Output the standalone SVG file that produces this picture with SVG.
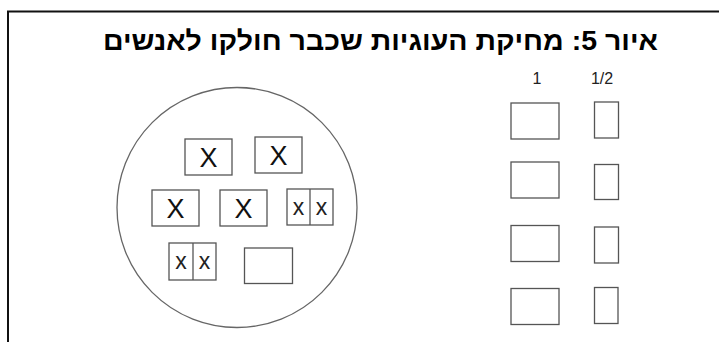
<svg xmlns="http://www.w3.org/2000/svg" width="719" height="342" viewBox="0 0 719 342">
<style>
.frame{stroke:#111;stroke-width:2;fill:none}
.box{fill:none;stroke:#555;stroke-width:1.3}
.circ{fill:none;stroke:#666;stroke-width:1.3}
.big{font-family:"Liberation Sans",Arial,sans-serif;font-size:27px;fill:#111;text-anchor:middle}
.sm{font-family:"Liberation Sans",Arial,sans-serif;font-size:23px;fill:#222;text-anchor:middle}
.hdr{font-family:"Liberation Sans",Arial,sans-serif;font-size:16px;fill:#222;text-anchor:middle}
.title{font-family:"Liberation Sans","DejaVu Sans",sans-serif;font-size:27px;font-weight:bold;fill:#000;text-anchor:middle}
</style>
<rect width="719" height="342" fill="#fff"/>
<g id="frame">
<path class="frame" d="M8 342 V11.5 H719"/>
</g>
<g id="title">
<text class="title" x="380.5" y="50" direction="rtl" textLength="555" lengthAdjust="spacingAndGlyphs">איור 5: מחיקת העוגיות שכבר חולקו לאנשים</text>
</g>
<g id="plate">
<circle class="circ" cx="237" cy="207.5" r="120"/>
</g>
<g id="cookie1"><rect class="box" x="185" y="139" width="47" height="36"/><text class="big" x="208.5" y="167">X</text></g>
<g id="cookie2"><rect class="box" x="255" y="137" width="47" height="36"/><text class="big" x="278.5" y="165">X</text></g>
<g id="cookie3"><rect class="box" x="152" y="190" width="47" height="36"/><text class="big" x="175.5" y="218">X</text></g>
<g id="cookie4"><rect class="box" x="220" y="190" width="47" height="36"/><text class="big" x="243.5" y="218">X</text></g>
<g id="cookie5"><rect class="box" x="287" y="189" width="46" height="36"/><line class="box" x1="310" y1="189" x2="310" y2="225"/><text class="sm" x="298.5" y="215">x</text><text class="sm" x="321.5" y="215">x</text></g>
<g id="cookie6"><rect class="box" x="169" y="243" width="47" height="37"/><line class="box" x1="193" y1="243" x2="193" y2="280"/><text class="sm" x="181" y="269">x</text><text class="sm" x="204.5" y="269">x</text></g>
<g id="cookie7"><rect class="box" x="244.5" y="248" width="48" height="35.5"/></g>
<g id="headers">
<text class="hdr" x="537" y="84">1</text>
<text class="hdr" x="602" y="84">1/2</text>
</g>
<g id="wholes">
<rect class="box" x="511" y="103" width="48" height="36"/>
<rect class="box" x="511" y="162" width="48" height="36"/>
<rect class="box" x="511" y="225.5" width="48" height="36"/>
<rect class="box" x="511" y="288.5" width="48" height="36"/>
</g>
<g id="halves">
<rect class="box" x="594.5" y="102" width="24" height="36"/>
<rect class="box" x="594.5" y="164.5" width="24" height="35"/>
<rect class="box" x="594.5" y="227" width="24" height="36"/>
<rect class="box" x="594.5" y="287.5" width="23.5" height="36"/>
</g>
<g id="connectors"></g>
</svg>
